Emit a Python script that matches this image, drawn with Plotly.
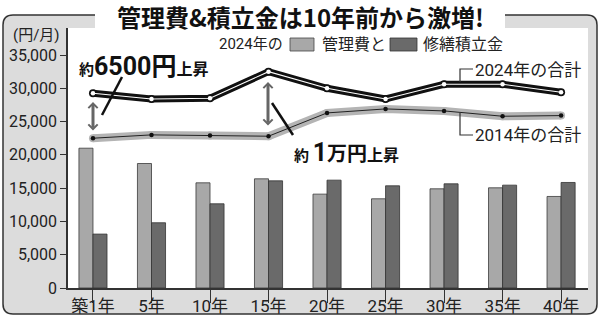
import plotly.graph_objects as go

categories = ["築1年", "5年", "10年", "15年", "20年", "25年", "30年", "35年", "40年"]
kanri = [21000, 18700, 15800, 16400, 14100, 13400, 14900, 15050, 13750]
shuzen = [8100, 9800, 12650, 16100, 16200, 15350, 15650, 15450, 15850]
total_2024 = [29250, 28400, 28500, 32500, 30000, 28400, 30600, 30600, 29400]
total_2014 = [22500, 23000, 22900, 22800, 26300, 26900, 26600, 25800, 25900]
y_ticks = [0, 5000, 10000, 15000, 20000, 25000, 30000, 35000]

W, H = 600, 315
L, R, T, B = 68, 588, 28, 288
MIX = "Roboto, Noto Sans CJK JP, sans-serif"
CJK = "Noto Sans CJK JP, sans-serif"
INK = "#222222"


def px(x):
    return (x - L) / (R - L)


def py(y):
    return (B - y) / (B - T)


fig = go.Figure()
fig.add_bar(x=categories, y=kanri, marker=dict(color="#a8a8a8", line=dict(color="#3a3a3a", width=0.8)))
fig.add_bar(x=categories, y=shuzen, marker=dict(color="#6a6a6a", line=dict(color="#333333", width=0.8)))

# 2014 total: gray band with thin black core
fig.add_scatter(x=categories, y=total_2014, mode="lines+markers",
                line=dict(color="#b4b4b4", width=8), marker=dict(color="#b4b4b4", size=8))
fig.add_scatter(x=categories, y=total_2014, mode="lines+markers",
                line=dict(color="#222222", width=1), marker=dict(color="#111111", size=4.5))
# 2024 total: black band with white core
fig.add_scatter(x=categories, y=total_2024, mode="lines+markers",
                line=dict(color="#111111", width=7), marker=dict(color="#111111", size=8))
fig.add_scatter(x=categories, y=total_2024, mode="lines+markers",
                line=dict(color="#ffffff", width=1.1), marker=dict(color="#ffffff", size=4.5))

r = 10
x0f, x1f, y0f, y1f = 3, 597, 15, 314


def P(x, y):
    return f"{px(x):.5f},{py(y):.5f}"


frame_path = (f"M{P(x0f + r, y0f)} L{P(x1f - r, y0f)} Q{P(x1f, y0f)} {P(x1f, y0f + r)} "
              f"L{P(x1f, y1f - r)} Q{P(x1f, y1f)} {P(x1f - r, y1f)} "
              f"L{P(x0f + r, y1f)} Q{P(x0f, y1f)} {P(x0f, y1f - r)} "
              f"L{P(x0f, y0f + r)} Q{P(x0f, y0f)} {P(x0f + r, y0f)} Z")

shapes = [
    dict(type="path", path=frame_path, xref="paper", yref="paper", layer="below",
         fillcolor="#dcdcdc", line=dict(color="#333333", width=1.5)),
    dict(type="rect", xref="paper", yref="paper", x0=0, x1=1, y0=0, y1=1, layer="below",
         fillcolor="#ffffff", line=dict(width=0)),
    dict(type="rect", xref="paper", yref="paper", x0=px(95), x1=px(505), y0=py(28), y1=py(-5),
         layer="below", fillcolor="#ffffff", line=dict(width=0)),
    # legend swatches
    dict(type="rect", xref="paper", yref="paper", x0=px(290), x1=px(314), y0=py(51), y1=py(38),
         fillcolor="#a8a8a8", line=dict(color="#444444", width=0.8)),
    dict(type="rect", xref="paper", yref="paper", x0=px(390), x1=px(417), y0=py(51), y1=py(38),
         fillcolor="#6a6a6a", line=dict(color="#333333", width=0.8)),
    # leader wedges
    dict(type="line", xref="paper", yref="paper", x0=px(122), y0=py(77), x1=px(102), y1=py(115),
         line=dict(color="#111111", width=2.5)),
    dict(type="line", xref="paper", yref="paper", x0=px(272), y0=py(103), x1=px(293), y1=py(135),
         line=dict(color="#111111", width=2.5)),
    # elbow leaders for total labels
    dict(type="path", xref="paper", yref="paper",
         path=f"M{P(473, 69)} L{P(460, 69)} L{P(460, 82)}", line=dict(color="#333333", width=1.2)),
    dict(type="path", xref="paper", yref="paper",
         path=f"M{P(460, 113)} L{P(460, 135)} L{P(473, 135)}", line=dict(color="#333333", width=1.2)),
]

annotations = [
    dict(text="<b>管理費&積立金は10年前から激増!</b>", x=px(300), y=py(17), xref="paper", yref="paper",
         showarrow=False, font=dict(family=CJK, size=24, color="#111111"), xanchor="center", yanchor="middle"),
    dict(text="(円/月)", x=px(36), y=py(35), xref="paper", yref="paper", showarrow=False,
         font=dict(family=MIX, size=15, color=INK), xanchor="center", yanchor="middle"),
    dict(text="2024年の", x=px(285), y=py(44), xref="paper", yref="paper", showarrow=False,
         font=dict(family=MIX, size=15, color=INK), xanchor="right", yanchor="middle"),
    dict(text="管理費と", x=px(320), y=py(44), xref="paper", yref="paper", showarrow=False,
         font=dict(family=MIX, size=16, color=INK), xanchor="left", yanchor="middle"),
    dict(text="修繕積立金", x=px(421), y=py(44), xref="paper", yref="paper", showarrow=False,
         font=dict(family=MIX, size=16, color=INK), xanchor="left", yanchor="middle"),
    dict(text="2024年の合計", x=px(473), y=py(70), xref="paper", yref="paper", showarrow=False,
         font=dict(family=MIX, size=17, color=INK), xanchor="left", yanchor="middle"),
    dict(text="2014年の合計", x=px(473), y=py(135), xref="paper", yref="paper", showarrow=False,
         font=dict(family=MIX, size=17, color=INK), xanchor="left", yanchor="middle"),
    dict(text="<b><span style='font-size:15px'>約</span><span style='font-size:25px'>6500円</span>"
              "<span style='font-size:16px'>上昇</span></b>",
         x=px(77), y=py(66), xref="paper", yref="paper", showarrow=False,
         font=dict(family=MIX, size=25, color="#111111"), xanchor="left", yanchor="middle"),
    dict(text="<b><span style='font-size:15px'>約 </span><span style='font-size:25px'>1</span>"
              "<span style='font-size:20px'>万円</span><span style='font-size:16px'>上昇</span></b>",
         x=px(292), y=py(152), xref="paper", yref="paper", showarrow=False,
         font=dict(family=MIX, size=20, color="#111111"), xanchor="left", yanchor="middle"),
    # double arrows
    dict(text="", x=px(93), y=py(102), xref="paper", yref="paper", showarrow=True,
         ax=0, ay=30, arrowside="end+start", arrowhead=4, startarrowhead=4,
         arrowwidth=3, arrowsize=0.6, startarrowsize=0.6, arrowcolor="#666666"),
    dict(text="", x=px(268), y=py(82), xref="paper", yref="paper", showarrow=True,
         ax=0, ay=45, arrowside="end+start", arrowhead=4, startarrowhead=4,
         arrowwidth=3, arrowsize=0.6, startarrowsize=0.6, arrowcolor="#666666"),
]

fig.update_layout(
    width=W, height=H,
    margin=dict(l=L, r=W - R, t=T, b=H - B, pad=0, autoexpand=False),
    paper_bgcolor="#ffffff", plot_bgcolor="rgba(0,0,0,0)",
    barmode="group", bargap=0.52, bargroupgap=0,
    showlegend=False,
    shapes=shapes, annotations=annotations,
    xaxis=dict(type="category", range=[-0.427, 8.46], showgrid=False, showline=True,
               linecolor="#333333", linewidth=1.5, ticks="outside", ticklen=13,
               tickcolor="#333333", tickwidth=1.2, ticklabelstandoff=-11, automargin=False,
               tickfont=dict(family=MIX, size=17, color=INK), zeroline=False),
    yaxis=dict(range=[0, 39055], tickvals=y_ticks, tickformat=",", showgrid=False, showline=True,
               linecolor="#333333", linewidth=1.5, ticks="outside", ticklen=6,
               tickcolor="#333333", tickwidth=1.2, automargin=False,
               tickfont=dict(family=MIX, size=16, color=INK), zeroline=False),
)

fig.write_html("out.html")
